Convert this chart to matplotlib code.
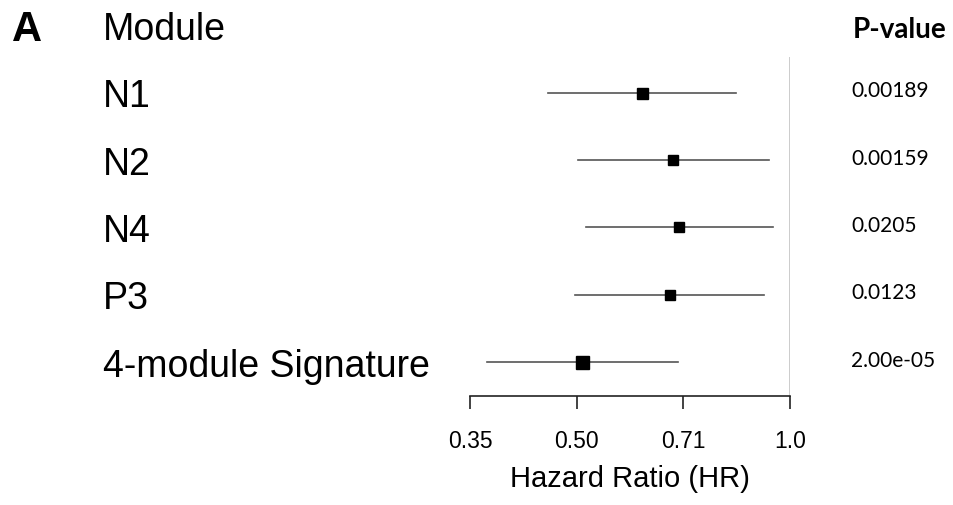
import numpy as np
import matplotlib.pyplot as plt
from matplotlib.ticker import FixedLocator, FixedFormatter, NullLocator
from matplotlib.transforms import blended_transform_factory

plt.rcParams["font.family"] = ["Liberation Sans", "DejaVu Sans"]

# forest plot data (hazard ratios)
modules = ["N1", "N2", "N4", "P3", "4-module Signature"]
hr = [0.618, 0.683, 0.698, 0.677, 0.509]
ci_low = [0.456, 0.502, 0.515, 0.498, 0.374]
ci_high = [0.839, 0.934, 0.947, 0.920, 0.695]
p_values = ["0.00189", "0.00159", "0.0205", "0.0123", "2.00e-05"]

tick_vals = [2 ** -1.5, 2 ** -1, 2 ** -0.5, 1.0]
tick_labels = ["0.35", "0.50", "0.71", "1.0"]

marker_px = [11, 10, 10, 10, 13]

fig = plt.figure(figsize=(9.54, 5.05), dpi=100)
ax = fig.add_axes([470 / 954, 1 - 395.7 / 505, 320 / 954, (395.7 - 57) / 505])

rows = np.arange(1, len(modules) + 1)

for y, m, lo, hi, ms in zip(rows, hr, ci_low, ci_high, marker_px):
    ax.plot([lo, hi], [y, y], color="#555555", lw=1.2, zorder=2)
    ax.plot(m, y, marker="s", color="black", markersize=ms * 0.72, zorder=3)

ax.axvline(1.0, color="#c8c8c8", lw=1.3, zorder=1)

ax.set_xscale("log")
ax.set_xlim(2 ** -1.5, 1.0)
ax.set_ylim(5.5, 0.47)

ax.xaxis.set_major_locator(FixedLocator(tick_vals))
ax.xaxis.set_major_formatter(FixedFormatter(tick_labels))
ax.xaxis.set_minor_locator(NullLocator())
ax.set_yticks([])

for s in ["top", "left", "right"]:
    ax.spines[s].set_visible(False)
ax.spines["bottom"].set_color("#222222")
ax.spines["bottom"].set_linewidth(1.2)
ax.tick_params(axis="x", direction="out", length=9.5, width=1.2, color="#222222",
               labelsize=16.5, pad=15)

ax.set_xlabel("Hazard Ratio (HR)", fontsize=21, labelpad=9)

trans = blended_transform_factory(fig.transFigure, ax.transData)

fig.text(12 / 954, 1 - 30 / 505, "A", fontsize=30, fontweight="bold",
         va="center", ha="left")
ax.text(103 / 954, 0.07, "Module", transform=trans, fontsize=27,
        va="center", ha="left", clip_on=False)
for y, name in zip(rows, modules):
    ax.text(103 / 954, y + 0.07, name, transform=trans, fontsize=27,
            va="center", ha="left", clip_on=False)

ax.text(947 / 954, 0.07, "P-value", transform=trans, fontsize=20, fontweight="bold",
        family="Lato", va="center", ha="right", clip_on=False)
for y, p in zip(rows, p_values):
    ax.text(851 / 954, y - 0.02, p, transform=trans, fontsize=15,
            family="Lato", va="center", ha="left", clip_on=False)

fig.savefig("out.png", dpi=100, facecolor="white")
